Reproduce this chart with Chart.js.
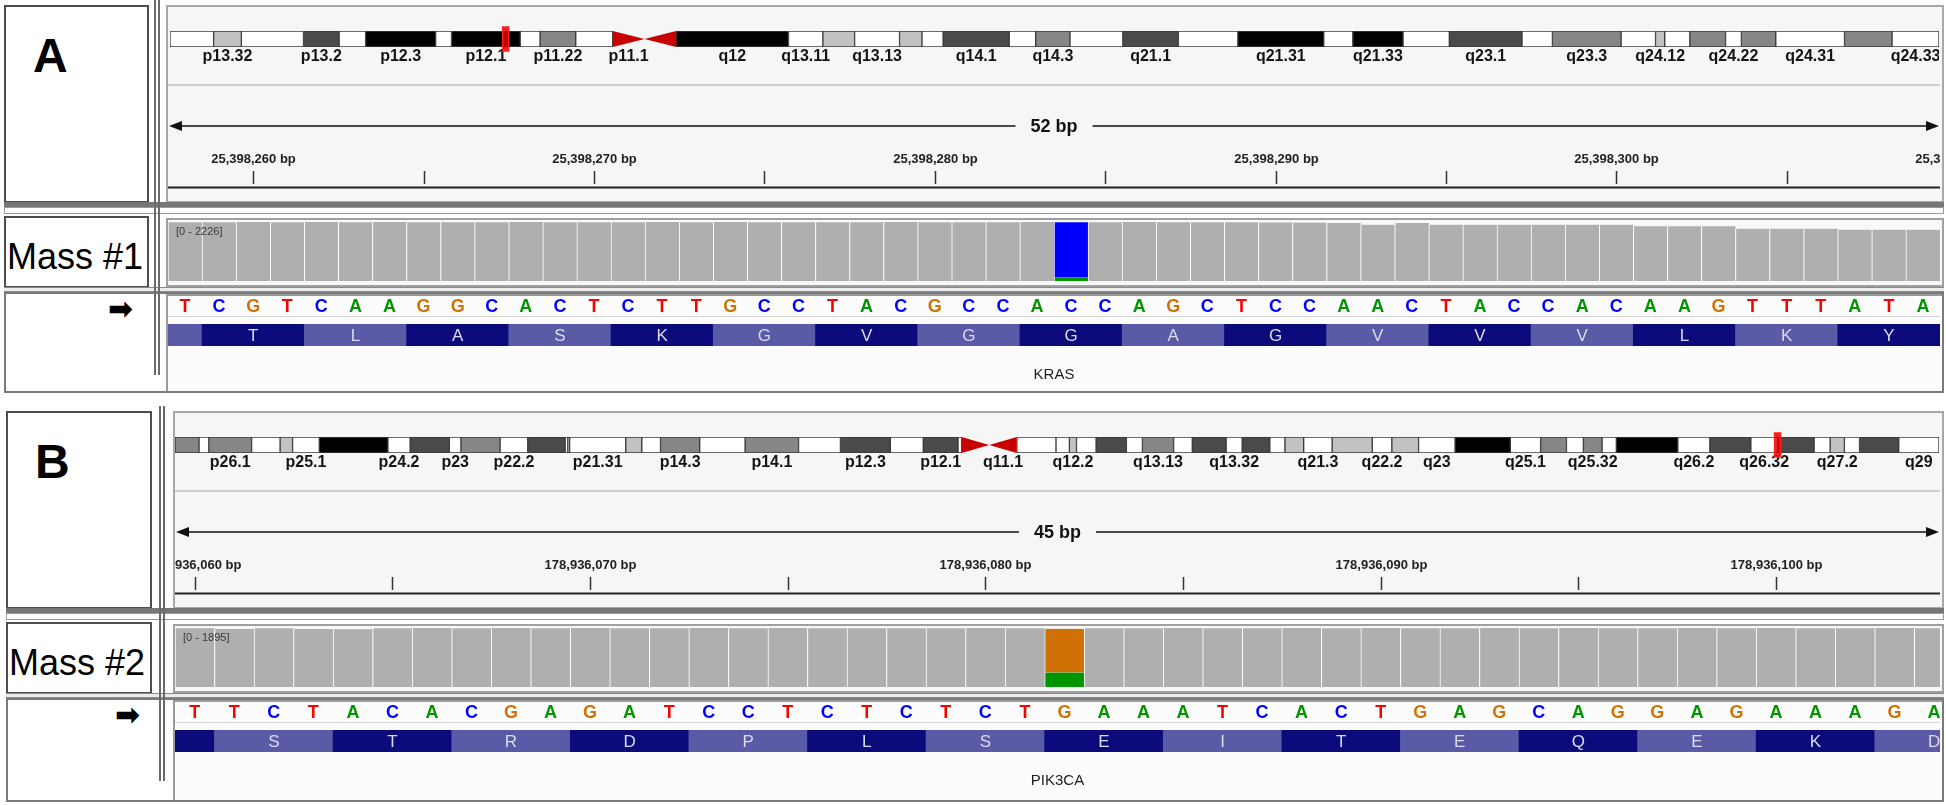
<!DOCTYPE html>
<html>
<head>
<meta charset="utf-8">
<script src="https://cdn.jsdelivr.net/npm/chart.js@4.4.0/dist/chart.umd.min.js"></script>
<style>
  body { margin: 0; background: #fff; width: 1946px; height: 805px; overflow: hidden; position: relative;
         font-family: "Liberation Sans", Arial, sans-serif; }
  .box { position: absolute; box-sizing: border-box; }
  .txt { position: absolute; white-space: nowrap; line-height: 1; }
  canvas { position: absolute; }
</style>
</head>
<body>
<script>
// ---------- panel A : chr12, KRAS ----------
var bandEdgesA = [0, 3.3, 5.4, 10.1, 12.8, 14.8, 20.1, 21.3, 26.5, 28.0, 30.7, 33.5, 35.9, 38.3, 46.8, 49.4, 51.8, 55.2,
  56.9, 58.5, 63.5, 65.5, 68.1, 72.1, 76.3, 80.8, 87.3, 89.5, 93.3, 96.8, 102.3, 104.6, 109.8, 112.4, 113.1, 115.0,
  117.7, 118.9, 121.5, 126.7, 130.3, 133.85];
var bandStainA = ['gneg', 'gpos25', 'gneg', 'gpos75', 'gneg', 'gpos100', 'gneg', 'gpos100', 'gneg', 'gpos50', 'gneg',
  'acen', 'acen', 'gpos100', 'gneg', 'gpos25', 'gneg', 'gpos25', 'gneg', 'gpos75', 'gneg', 'gpos50', 'gneg', 'gpos75',
  'gneg', 'gpos100', 'gneg', 'gpos100', 'gneg', 'gpos75', 'gneg', 'gpos50', 'gneg', 'gpos25', 'gneg', 'gpos50', 'gneg',
  'gpos50', 'gneg', 'gpos50', 'gneg'];
var bandNameA = ['', 'p13.32', '', 'p13.2', '', 'p12.3', '', 'p12.1', '', 'p11.22', '', 'p11.1', '', 'q12', 'q13.11', '',
  'q13.13', '', '', 'q14.1', '', 'q14.3', '', 'q21.1', '', 'q21.31', '', 'q21.33', '', 'q23.1', '', 'q23.3', '', 'q24.12',
  '', '', 'q24.22', '', 'q24.31', '', 'q24.33'];
var markerA = 25.4;   // Mb

var seqA = 'TCGTCAAGGCACTCTTGCCTACGCCACCAGCTCCAACTACCACAAGTTTATA'.split('');
var firstPosA = 25398258;
var rulerTicksA = [25398260, 25398265, 25398270, 25398275, 25398280, 25398285, 25398290, 25398295, 25398300, 25398305, 25398310];
var covA = [2214, 2220, 2226, 2218, 2222, 2216, 2224, 2219, 2221, 2215,
            2223, 2217, 2220, 2214, 2222, 2218, 2225, 2219, 2216, 2221,
            2218, 2223, 2215, 2220, 2217, 2222, 2215, 2219, 2224, 2216,
            2221, 2218, 2210, 2205, 2189, 2126, 2189, 2126, 2126, 2126,
            2126, 2126, 2126, 2063, 2063, 2063, 1976, 1976, 1976, 1938,
            1938, 1938];
var covMaxA = 2226;
var mismatchA = { pos: 25398284, ref: 'C', refCount: 2085, alt: 'A', altCount: 130 };
var aaA = ['', 'T', 'L', 'A', 'S', 'K', 'G', 'V', 'G', 'G', 'A', 'G', 'V', 'V', 'V', 'L', 'K', 'Y'];
var aaStartA = 25398256;

// ---------- panel B : chr3, PIK3CA ----------
var bandEdgesB = [0, 2.7, 3.8, 8.6, 11.8, 13.2, 16.2, 23.9, 26.4, 30.8, 32.1, 36.5, 39.6, 43.8, 44.1, 44.3, 50.6, 52.4,
  54.5, 58.9, 64.0, 70.0, 74.7, 80.3, 84.0, 87.9, 88.3, 91.4, 94.5, 98.9, 100.4, 101.2, 103.4, 106.8, 108.6, 112.1,
  114.2, 118.0, 119.8, 122.9, 124.6, 126.7, 129.9, 134.4, 136.6, 139.6, 143.7, 149.9, 153.3, 156.2, 158.1, 160.2,
  161.8, 168.7, 172.3, 176.9, 179.9, 184.0, 185.8, 187.4, 189.1, 193.5, 198.02];
var bandStainB = ['gpos50', 'gneg', 'gpos50', 'gneg', 'gpos25', 'gneg', 'gpos100', 'gneg', 'gpos75', 'gneg', 'gpos50',
  'gneg', 'gpos75', 'gneg', 'gpos50', 'gneg', 'gpos25', 'gneg', 'gpos50', 'gneg', 'gpos50', 'gneg', 'gpos75', 'gneg',
  'gpos75', 'gneg', 'acen', 'acen', 'gneg', 'gneg', 'gpos25', 'gneg', 'gpos75', 'gneg', 'gpos50', 'gneg', 'gpos75',
  'gneg', 'gpos75', 'gneg', 'gpos25', 'gneg', 'gpos25', 'gneg', 'gpos25', 'gneg', 'gpos100', 'gneg', 'gpos50', 'gneg',
  'gpos50', 'gneg', 'gpos100', 'gneg', 'gpos75', 'gneg', 'gpos75', 'gneg', 'gpos25', 'gneg', 'gpos75', 'gneg'];
var bandNameB = ['', '', 'p26.1', '', '', 'p25.1', '', 'p24.2', '', 'p23', '', 'p22.2', '', '', '', 'p21.31', '', '',
  'p14.3', '', 'p14.1', '', 'p12.3', '', 'p12.1', '', '', 'q11.1', '', '', 'q12.2', '', '', '', 'q13.13', '', '',
  'q13.32', '', '', '', 'q21.3', '', 'q22.2', '', 'q23', '', 'q25.1', '', '', 'q25.32', '', '', 'q26.2', '', 'q26.32',
  '', '', 'q27.2', '', '', 'q29'];
var markerB = 179.9;  // Mb

var seqB = 'TTCTACACGAGATCCTCTCTCTGAAATCACTGAGCAGGAGAAAGA'.split('');
var firstPosB = 178936060;
var rulerTicksB = [178936060, 178936065, 178936070, 178936075, 178936080, 178936085, 178936090, 178936095, 178936100];
var covB = [1889, 1866, 1890, 1860, 1858, 1888, 1891, 1889, 1892, 1890,
            1893, 1890, 1888, 1892, 1889, 1891, 1888, 1890, 1887, 1889,
            1891, 1888, 1870, 1890, 1889, 1892, 1888, 1890, 1891, 1889,
            1892, 1890, 1888, 1891, 1889, 1893, 1890, 1888, 1891, 1889,
            1892, 1890, 1889, 1891, 1890];
var covMaxB = 1895;
var mismatchB = { pos: 178936082, ref: 'G', refCount: 1405, alt: 'A', altCount: 465 };
var aaB = ['', 'S', 'T', 'R', 'D', 'P', 'L', 'S', 'E', 'I', 'T', 'E', 'Q', 'E', 'K', 'D'];
var aaStartB = 178936058;

var stainColor = { gneg: '#ffffff', gpos25: '#c2c2c2', gpos50: '#868686', gpos75: '#4a4a4a', gpos100: '#000000', acen: 'rgba(0,0,0,0)' };
var baseColor = { A: '#009600', C: '#0000ff', G: '#d17105', T: '#ff0000' };
var FONT = '"Liberation Sans", Arial, sans-serif';

function box(l, t, w, h, css) {
  var d = document.createElement('div');
  d.className = 'box';
  d.style.cssText = 'left:' + l + 'px;top:' + t + 'px;width:' + w + 'px;height:' + h + 'px;' + (css || '');
  document.body.appendChild(d);
  return d;
}
function text(s, l, t, css) {
  var d = document.createElement('div');
  d.className = 'txt';
  d.textContent = s;
  d.style.cssText = 'left:' + l + 'px;top:' + t + 'px;' + (css || '');
  document.body.appendChild(d);
  return d;
}
function canvasAt(l, t, w, h) {
  var c = document.createElement('canvas');
  c.width = w; c.height = h;
  c.style.left = l + 'px'; c.style.top = t + 'px';
  c.style.width = w + 'px'; c.style.height = h + 'px';
  document.body.appendChild(c);
  return c.getContext('2d');
}
var baseOpts = {
  responsive: false, animation: false, events: [],
  plugins: { legend: { display: false }, tooltip: { enabled: false } }
};

function ideogram(ctx, edges, stains, names, marker) {
  var data = stains.map(function (s, i) { return { x: [edges[i], edges[i + 1]], y: 'chr' }; });
  return new Chart(ctx, {
    type: 'bar',
    data: { labels: ['chr'], datasets: [{
      data: data,
      backgroundColor: stains.map(function (s) { return stainColor[s]; }),
      borderColor: '#3a3a3a',
      borderWidth: stains.map(function (s) { return s === 'acen' ? 0 : 1; }),
      borderSkipped: false, barPercentage: 1, categoryPercentage: 1
    }] },
    options: Object.assign({}, baseOpts, {
      indexAxis: 'y',
      layout: { padding: { top: 7, bottom: 25, left: 0, right: 0 } },
      scales: {
        x: { type: 'linear', min: 0, max: edges[edges.length - 1], display: false, offset: false },
        y: { type: 'category', display: false }
      }
    }),
    plugins: [{
      id: 'bands',
      afterDatasetsDraw: function (chart) {
        var c = chart.ctx, meta = chart.getDatasetMeta(0), xs = chart.scales.x;
        c.save();
        var firstAcen = true;
        meta.data.forEach(function (el, i) {
          var p = el.getProps(['x', 'y', 'base', 'height'], true);
          var top = p.y - p.height / 2, bot = p.y + p.height / 2;
          if (stains[i] === 'acen') {
            c.fillStyle = '#c80000';
            c.beginPath();
            if (firstAcen) { c.moveTo(p.base, top); c.lineTo(p.base, bot); c.lineTo(p.x, p.y); }
            else { c.moveTo(p.x, top); c.lineTo(p.x, bot); c.lineTo(p.base, p.y); }
            c.closePath(); c.fill();
            firstAcen = false;
          }
          if (names[i]) {
            c.fillStyle = '#141414';
            c.font = 'bold 16px ' + FONT;
            c.textAlign = 'center'; c.textBaseline = 'middle';
            c.fillText(names[i], (p.x + p.base) / 2, bot + 10);
          }
        });
        // current locus
        var el0 = meta.data[0].getProps(['y', 'height'], true);
        var mx = xs.getPixelForValue(marker);
        c.fillStyle = 'rgba(225,0,0,0.85)';
        c.strokeStyle = '#ff2020';
        c.lineWidth = 1.5;
        c.fillRect(mx - 3, el0.y - el0.height / 2 - 4, 6, el0.height + 8);
        c.strokeRect(mx - 3, el0.y - el0.height / 2 - 4, 6, el0.height + 8);
        c.restore();
      }
    }]
  });
}

function ruler(ctx, minX, maxX, ticks, span) {
  return new Chart(ctx, {
    type: 'scatter',
    data: { datasets: [] },
    options: Object.assign({}, baseOpts, {
      layout: { padding: 0 },
      scales: { x: { type: 'linear', min: minX, max: maxX, display: false }, y: { display: false } }
    }),
    plugins: [{
      id: 'ruler',
      afterDraw: function (chart) {
        var c = chart.ctx, xs = chart.scales.x;
        var L = xs.getPixelForValue(minX), R = xs.getPixelForValue(maxX), mid = (L + R) / 2, ay = 26;
        c.save();
        c.strokeStyle = '#111'; c.fillStyle = '#111'; c.lineWidth = 1.5;
        c.font = 'bold 18px ' + FONT;
        var tw = c.measureText(span).width;
        c.beginPath();
        c.moveTo(L + 4, ay); c.lineTo(mid - tw / 2 - 15, ay);
        c.moveTo(mid + tw / 2 + 15, ay); c.lineTo(R - 4, ay);
        c.stroke();
        c.beginPath(); c.moveTo(L + 1, ay); c.lineTo(L + 14, ay - 5); c.lineTo(L + 14, ay + 5); c.closePath(); c.fill();
        c.beginPath(); c.moveTo(R - 1, ay); c.lineTo(R - 14, ay - 5); c.lineTo(R - 14, ay + 5); c.closePath(); c.fill();
        c.textAlign = 'center'; c.textBaseline = 'middle';
        c.fillText(span, mid, ay + 1);
        c.font = 'bold 13px ' + FONT;
        c.fillStyle = '#222'; c.strokeStyle = '#333';
        ticks.forEach(function (v) {
          var x = Math.round(xs.getPixelForValue(v)) + 0.5;
          c.beginPath(); c.moveTo(x, 71); c.lineTo(x, 84); c.stroke();
          if (v % 10 === 0) c.fillText(v.toLocaleString('en-US') + ' bp', x, 59);
        });
        c.strokeStyle = '#222'; c.lineWidth = 2;
        c.beginPath(); c.moveTo(0, 87.5); c.lineTo(chart.width, 87.5); c.stroke();
        c.restore();
      }
    }]
  });
}

function coverage(ctx, minX, maxX, firstPos, cov, covMax, mm) {
  var gray = cov.map(function (v, i) { return { x: firstPos + i, y: firstPos + i === mm.pos ? null : v }; });
  var sep = { left: 1, right: 0, top: 0, bottom: 0 };
  return new Chart(ctx, {
    type: 'bar',
    data: { datasets: [
      { data: gray, backgroundColor: '#afafaf', borderColor: '#ffffff', borderWidth: sep, borderSkipped: false, barPercentage: 1, categoryPercentage: 1 },
      { data: [{ x: mm.pos, y: mm.altCount }], backgroundColor: baseColor[mm.alt], borderColor: '#ffffff', borderWidth: sep, borderSkipped: false, barPercentage: 1, categoryPercentage: 1 },
      { data: [{ x: mm.pos, y: mm.refCount }], backgroundColor: baseColor[mm.ref], borderColor: '#ffffff', borderWidth: sep, borderSkipped: false, barPercentage: 1, categoryPercentage: 1 }
    ] },
    options: Object.assign({}, baseOpts, {
      layout: { padding: 0 },
      scales: {
        x: { type: 'linear', min: minX, max: maxX, display: false, offset: false, stacked: true },
        y: { min: 0, max: covMax, display: false, stacked: true }
      }
    }),
    plugins: [{
      id: 'range',
      afterDraw: function (chart) {
        var c = chart.ctx;
        c.save();
        c.font = '11px ' + FONT; c.fillStyle = '#3a3a3a';
        c.textBaseline = 'middle';
        c.fillText('[0 - ' + covMax + ']', chart.chartArea.left + 8, chart.chartArea.top + 10);
        c.restore();
      }
    }]
  });
}

function sequence(ctx, minX, maxX, firstPos, seq, aa, aaStart, darkFirst, gene) {
  var data = aa.map(function (a, j) { return { x: [aaStart + 3 * j - 0.5, aaStart + 3 * j + 2.5], y: 'aa' }; });
  var shades = aa.map(function (a, j) { return (j % 2 === 0) === darkFirst ? '#0b0b7c' : '#5a5aa6'; });
  return new Chart(ctx, {
    type: 'bar',
    data: { labels: ['aa'], datasets: [{ data: data, backgroundColor: shades, borderWidth: 0, barPercentage: 1, categoryPercentage: 1 }] },
    options: Object.assign({}, baseOpts, {
      indexAxis: 'y',
      layout: { padding: { top: 30, bottom: 46, left: 0, right: 0 } },
      scales: {
        x: { type: 'linear', min: minX, max: maxX, display: false, offset: false },
        y: { type: 'category', display: false }
      }
    }),
    plugins: [{
      id: 'seq',
      afterDatasetsDraw: function (chart) {
        var c = chart.ctx, xs = chart.scales.x, a = chart.chartArea, meta = chart.getDatasetMeta(0);
        c.save();
        c.textAlign = 'center'; c.textBaseline = 'middle';
        c.font = 'bold 18px ' + FONT;
        seq.forEach(function (b, i) {
          c.fillStyle = baseColor[b];
          c.fillText(b, xs.getPixelForValue(firstPos + i), a.top - 17);
        });
        c.strokeStyle = '#d6d6d6'; c.lineWidth = 1;
        c.beginPath(); c.moveTo(0, a.top - 7.5); c.lineTo(chart.width, a.top - 7.5); c.stroke();
        c.font = '17px ' + FONT; c.fillStyle = '#dcdcec';
        meta.data.forEach(function (el, j) {
          if (!aa[j]) return;
          var p = el.getProps(['x', 'base', 'y'], true);
          c.fillText(aa[j], (p.x + p.base) / 2, p.y + 1);
        });
        c.font = '15px ' + FONT; c.fillStyle = '#1e1e1e';
        c.fillText(gene, (a.left + a.right) / 2, a.bottom + 29);
        c.restore();
      }
    }]
  });
}

function buildPanel(p) {
  var y = p.y0, dl = p.dataLeft, dw = 1940 - dl;
  var minX = p.firstPos - 0.5, maxX = p.firstPos - 0.5 + dw / p.bpWidth;
  var right = 1944;
  // frames
  box(p.boxL, y + 5, p.boxW, 198, 'border:2px solid #4d4d4d;background:#fff;');
  box(dl - 2, y + 5, right - dl + 2, 198, 'border:2px solid #a8a8a8;background:#f6f6f6;');
  box(dl, y + 84, dw, 2, 'background:#cfcfcf;');
  box(p.boxL, y + 202, right - p.boxL, 5, 'background:#767676;');
  box(p.boxL, y + 207, right - p.boxL, 7, 'border:1px solid #9a9a9a;background:#fff;');
  box(p.boxL, y + 216, p.boxW, 72, 'border:2px solid #4d4d4d;background:#fff;');
  box(dl - 2, y + 218, right - dl + 2, 69, 'border:2px solid #a0a0a0;background:#f8f8f8;');
  box(p.boxL, y + 287, right - p.boxL, 5, 'border-top:1px solid #8a8a8a;border-bottom:1px solid #8a8a8a;background:#ececec;');
  box(p.boxL, y + 292, right - p.boxL, p.seqH, 'border:2px solid #7a7a7a;background:#fff;');
  box(dl - 2, y + 294, right - dl, p.seqH - 4, 'border-left:2px solid #9a9a9a;border-top:2px solid #9a9a9a;background:#fcfcfc;');
  box(p.dblX, y, 2, 375, 'background:#6a6a6a;');
  box(p.dblX + 4, y, 2, 375, 'background:#6a6a6a;');
  // texts
  text(p.letter, p.letterX, y + 28, 'font:bold 48px ' + FONT + ';color:#000;');
  text(p.track, p.boxL + 3, y + 236, 'font:36px "Liberation Sans Narrow", "Arial Narrow", ' + FONT + ';color:#000;');
  text('\u27a1', p.arrowX, y + 291, 'font:bold 30px "DejaVu Sans", sans-serif;color:#000;');
  // charts
  ideogram(canvasAt(p.ideoLeft, y + 24, 1939 - p.ideoLeft, 48), p.bandEdges, p.bandStain, p.bandName, p.marker);
  ruler(canvasAt(dl, y + 100, dw, 95), minX, maxX, p.ticks, p.seq.length + ' bp');
  coverage(canvasAt(dl, y + 222, dw, 59), minX, maxX, p.firstPos, p.cov, p.covMax, p.mm);
  sequence(canvasAt(dl, y + 294, dw, 98), minX, maxX, p.firstPos, p.seq, p.aa, p.aaStart, p.darkFirst, p.gene);
}

buildPanel({
  y0: 0, boxL: 4, boxW: 145, dblX: 154, dataLeft: 168, ideoLeft: 170, bpWidth: 1772 / 52, seqH: 101,
  letter: 'A', letterX: 33, track: 'Mass #1', arrowX: 108,
  bandEdges: bandEdgesA, bandStain: bandStainA, bandName: bandNameA, marker: markerA,
  firstPos: firstPosA, ticks: rulerTicksA, seq: seqA, cov: covA, covMax: covMaxA, mm: mismatchA,
  aa: aaA, aaStart: aaStartA, darkFirst: false, gene: 'KRAS'
});
buildPanel({
  y0: 406, boxL: 6, boxW: 146, dblX: 159, dataLeft: 175, ideoLeft: 175, bpWidth: 39.53, seqH: 104,
  letter: 'B', letterX: 35, track: 'Mass #2', arrowX: 115,
  bandEdges: bandEdgesB, bandStain: bandStainB, bandName: bandNameB, marker: markerB,
  firstPos: firstPosB, ticks: rulerTicksB, seq: seqB, cov: covB, covMax: covMaxB, mm: mismatchB,
  aa: aaB, aaStart: aaStartB, darkFirst: true, gene: 'PIK3CA'
});
</script>
</body>
</html>
